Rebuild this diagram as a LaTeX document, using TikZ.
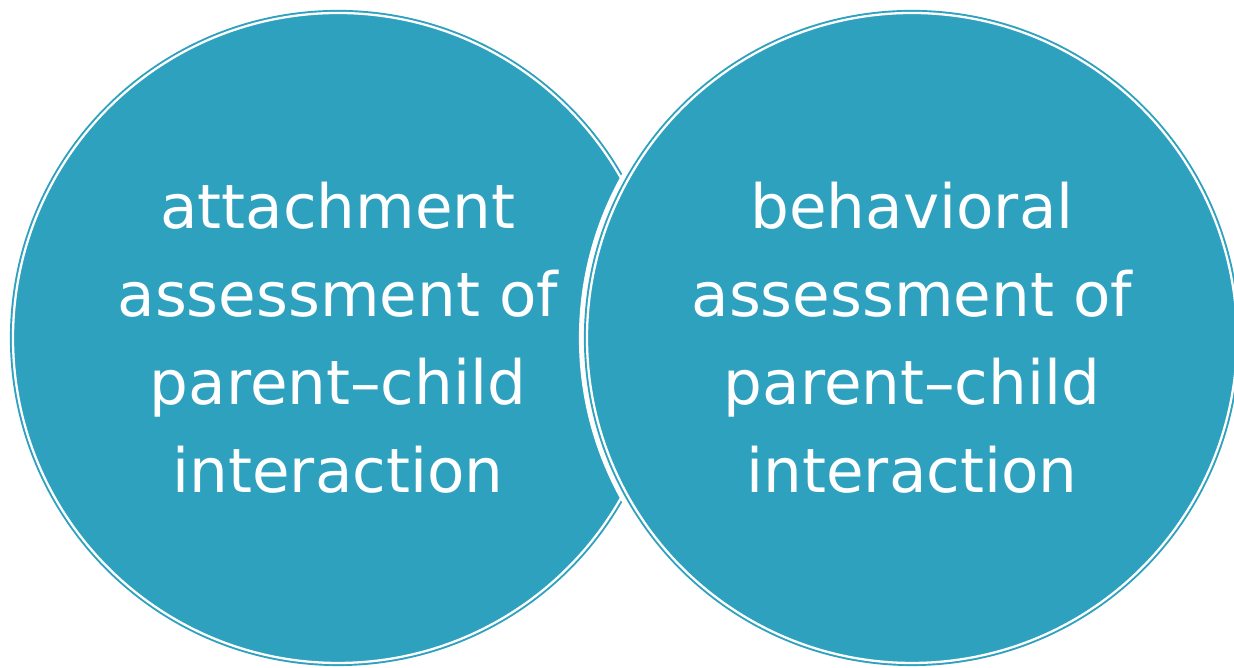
\documentclass[tikz,border=0pt]{standalone}
\usepackage{fontspec}
\newfontfamily\bubblefont{DejaVu Sans}
\usepackage{xcolor}
\usepackage{tikz}
\usetikzlibrary{positioning}

\definecolor{bubbleteal}{RGB}{46,161,191}

\begin{document}
\begin{tikzpicture}[
  every node/.style={align=center},
  bubble/.style={circle, inner sep=0pt, minimum size=6.5cm,
    fill=bubbleteal, draw=bubbleteal, line width=0.55pt,
    double=white, double distance=0.65pt,
    preaction={draw=white, line width=4.6pt},
    text=white, font=\bubblefont\fontsize{17.4}{25}\selectfont}]
\useasboundingbox (0,0) rectangle (12.34,6.68);
\node (attach) [bubble] at (3.38,3.30) {attachment\\assessment of\\parent–child\\interaction};
\node (behav) [bubble] at (9.12,3.30) {behavioral\\assessment of\\parent–child\\interaction};
\end{tikzpicture}
\end{document}
